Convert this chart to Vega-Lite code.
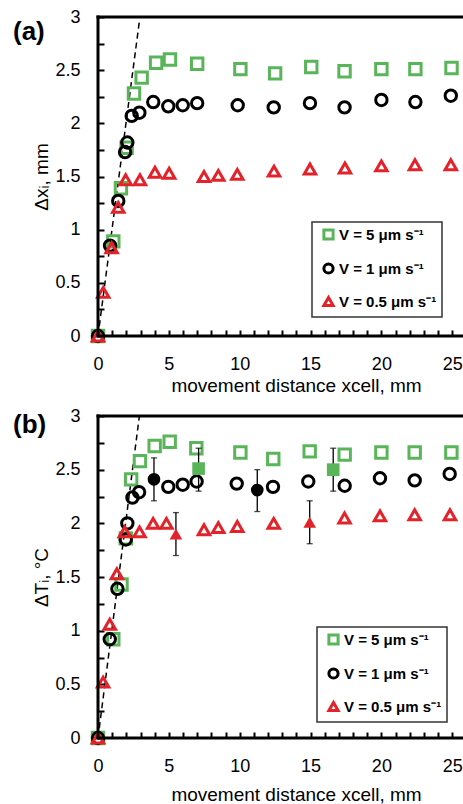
{
  "$schema": "https://vega.github.io/schema/vega-lite/v6.json",
  "padding": {"left": 13, "top": 8, "right": 0, "bottom": 0},
  "bounds": "flush",
  "spacing": 80,
  "config": {
    "font": "Liberation Sans",
    "view": {"stroke": null},
    "axis": {"grid": false, "domain": false, "offset": -6, "tickColor": "black", "tickWidth": 2, "tickSize": 6, "labelFontSize": 18, "labelColor": "black", "labelFont": "Liberation Sans", "titleFont": "Liberation Sans", "titleFontSize": 19, "titleFontWeight": "normal", "titleColor": "black", "labelOverlap": false, "labelFlush": false, "labelBound": false},
    "axisX": {"labelPadding": 19, "titlePadding": 3},
    "axisY": {"labelPadding": 18, "titlePadding": 3},
    "legend": {"strokeColor": "#333333", "strokeWidth": 1.5, "fillColor": "white", "padding": 5, "rowPadding": 11, "symbolSize": 85, "symbolStrokeWidth": 3, "labelFontSize": 15, "labelFontWeight": "bold", "labelFont": "Liberation Sans", "labelColor": "black", "symbolOffset": 4, "labelOffset": 3}
  },
  "datasets": {
    "a": [
      {"x": 0, "y": 0, "s": "V = 5 μm s⁻¹"},
      {"x": 1.08, "y": 0.89, "s": "V = 5 μm s⁻¹"},
      {"x": 1.62, "y": 1.39, "s": "V = 5 μm s⁻¹"},
      {"x": 2.02, "y": 1.77, "s": "V = 5 μm s⁻¹"},
      {"x": 2.54, "y": 2.28, "s": "V = 5 μm s⁻¹"},
      {"x": 3.08, "y": 2.43, "s": "V = 5 μm s⁻¹"},
      {"x": 4.1, "y": 2.57, "s": "V = 5 μm s⁻¹"},
      {"x": 5.08, "y": 2.6, "s": "V = 5 μm s⁻¹"},
      {"x": 7.0, "y": 2.56, "s": "V = 5 μm s⁻¹"},
      {"x": 10.05, "y": 2.51, "s": "V = 5 μm s⁻¹"},
      {"x": 12.5, "y": 2.47, "s": "V = 5 μm s⁻¹"},
      {"x": 15.05, "y": 2.53, "s": "V = 5 μm s⁻¹"},
      {"x": 17.4, "y": 2.49, "s": "V = 5 μm s⁻¹"},
      {"x": 20.0, "y": 2.51, "s": "V = 5 μm s⁻¹"},
      {"x": 22.4, "y": 2.51, "s": "V = 5 μm s⁻¹"},
      {"x": 24.95, "y": 2.52, "s": "V = 5 μm s⁻¹"},
      {"x": 0, "y": 0, "s": "V = 1 μm s⁻¹"},
      {"x": 0.85, "y": 0.85, "s": "V = 1 μm s⁻¹"},
      {"x": 1.43, "y": 1.27, "s": "V = 1 μm s⁻¹"},
      {"x": 1.91, "y": 1.73, "s": "V = 1 μm s⁻¹"},
      {"x": 2.07, "y": 1.82, "s": "V = 1 μm s⁻¹"},
      {"x": 2.38, "y": 2.07, "s": "V = 1 μm s⁻¹"},
      {"x": 2.92, "y": 2.1, "s": "V = 1 μm s⁻¹"},
      {"x": 3.9, "y": 2.2, "s": "V = 1 μm s⁻¹"},
      {"x": 4.96, "y": 2.16, "s": "V = 1 μm s⁻¹"},
      {"x": 5.98, "y": 2.17, "s": "V = 1 μm s⁻¹"},
      {"x": 7.0, "y": 2.19, "s": "V = 1 μm s⁻¹"},
      {"x": 9.86, "y": 2.17, "s": "V = 1 μm s⁻¹"},
      {"x": 12.4, "y": 2.15, "s": "V = 1 μm s⁻¹"},
      {"x": 14.96, "y": 2.19, "s": "V = 1 μm s⁻¹"},
      {"x": 17.4, "y": 2.15, "s": "V = 1 μm s⁻¹"},
      {"x": 20.0, "y": 2.22, "s": "V = 1 μm s⁻¹"},
      {"x": 22.4, "y": 2.2, "s": "V = 1 μm s⁻¹"},
      {"x": 24.9, "y": 2.26, "s": "V = 1 μm s⁻¹"},
      {"x": 0, "y": 0, "s": "V = 0.5 μm s⁻¹"},
      {"x": 0.37, "y": 0.41, "s": "V = 0.5 μm s⁻¹"},
      {"x": 0.96, "y": 0.83, "s": "V = 0.5 μm s⁻¹"},
      {"x": 1.43, "y": 1.21, "s": "V = 0.5 μm s⁻¹"},
      {"x": 1.95, "y": 1.47, "s": "V = 0.5 μm s⁻¹"},
      {"x": 2.96, "y": 1.47, "s": "V = 0.5 μm s⁻¹"},
      {"x": 4.02, "y": 1.54, "s": "V = 0.5 μm s⁻¹"},
      {"x": 5.02, "y": 1.53, "s": "V = 0.5 μm s⁻¹"},
      {"x": 7.48, "y": 1.5, "s": "V = 0.5 μm s⁻¹"},
      {"x": 8.49, "y": 1.51, "s": "V = 0.5 μm s⁻¹"},
      {"x": 9.83, "y": 1.52, "s": "V = 0.5 μm s⁻¹"},
      {"x": 12.42, "y": 1.55, "s": "V = 0.5 μm s⁻¹"},
      {"x": 14.96, "y": 1.57, "s": "V = 0.5 μm s⁻¹"},
      {"x": 17.43, "y": 1.58, "s": "V = 0.5 μm s⁻¹"},
      {"x": 20.0, "y": 1.6, "s": "V = 0.5 μm s⁻¹"},
      {"x": 22.37, "y": 1.61, "s": "V = 0.5 μm s⁻¹"},
      {"x": 24.9, "y": 1.61, "s": "V = 0.5 μm s⁻¹"}
    ],
    "b": [
      {"x": 0, "y": 0, "s": "V = 5 μm s⁻¹"},
      {"x": 1.08, "y": 0.92, "s": "V = 5 μm s⁻¹"},
      {"x": 1.66, "y": 1.43, "s": "V = 5 μm s⁻¹"},
      {"x": 1.96, "y": 1.86, "s": "V = 5 μm s⁻¹"},
      {"x": 2.34, "y": 2.41, "s": "V = 5 μm s⁻¹"},
      {"x": 2.96, "y": 2.58, "s": "V = 5 μm s⁻¹"},
      {"x": 4.0, "y": 2.72, "s": "V = 5 μm s⁻¹"},
      {"x": 5.06, "y": 2.76, "s": "V = 5 μm s⁻¹"},
      {"x": 6.94, "y": 2.7, "s": "V = 5 μm s⁻¹"},
      {"x": 10.05, "y": 2.66, "s": "V = 5 μm s⁻¹"},
      {"x": 12.37, "y": 2.6, "s": "V = 5 μm s⁻¹"},
      {"x": 14.94, "y": 2.67, "s": "V = 5 μm s⁻¹"},
      {"x": 17.41, "y": 2.64, "s": "V = 5 μm s⁻¹"},
      {"x": 20.0, "y": 2.66, "s": "V = 5 μm s⁻¹"},
      {"x": 22.35, "y": 2.66, "s": "V = 5 μm s⁻¹"},
      {"x": 24.94, "y": 2.66, "s": "V = 5 μm s⁻¹"},
      {"x": 0, "y": 0, "s": "V = 1 μm s⁻¹"},
      {"x": 0.83, "y": 0.92, "s": "V = 1 μm s⁻¹"},
      {"x": 1.37, "y": 1.39, "s": "V = 1 μm s⁻¹"},
      {"x": 1.96, "y": 1.85, "s": "V = 1 μm s⁻¹"},
      {"x": 2.07, "y": 2.0, "s": "V = 1 μm s⁻¹"},
      {"x": 2.43, "y": 2.24, "s": "V = 1 μm s⁻¹"},
      {"x": 2.9, "y": 2.29, "s": "V = 1 μm s⁻¹"},
      {"x": 4.96, "y": 2.34, "s": "V = 1 μm s⁻¹"},
      {"x": 5.98, "y": 2.36, "s": "V = 1 μm s⁻¹"},
      {"x": 6.96, "y": 2.39, "s": "V = 1 μm s⁻¹"},
      {"x": 9.79, "y": 2.37, "s": "V = 1 μm s⁻¹"},
      {"x": 12.35, "y": 2.34, "s": "V = 1 μm s⁻¹"},
      {"x": 14.84, "y": 2.39, "s": "V = 1 μm s⁻¹"},
      {"x": 17.41, "y": 2.35, "s": "V = 1 μm s⁻¹"},
      {"x": 19.9, "y": 2.42, "s": "V = 1 μm s⁻¹"},
      {"x": 22.35, "y": 2.4, "s": "V = 1 μm s⁻¹"},
      {"x": 24.82, "y": 2.46, "s": "V = 1 μm s⁻¹"},
      {"x": 0, "y": 0, "s": "V = 0.5 μm s⁻¹"},
      {"x": 0.36, "y": 0.52, "s": "V = 0.5 μm s⁻¹"},
      {"x": 0.83, "y": 1.06, "s": "V = 0.5 μm s⁻¹"},
      {"x": 1.33, "y": 1.53, "s": "V = 0.5 μm s⁻¹"},
      {"x": 1.89, "y": 1.92, "s": "V = 0.5 μm s⁻¹"},
      {"x": 2.93, "y": 1.92, "s": "V = 0.5 μm s⁻¹"},
      {"x": 3.89, "y": 2.0, "s": "V = 0.5 μm s⁻¹"},
      {"x": 4.83, "y": 2.0, "s": "V = 0.5 μm s⁻¹"},
      {"x": 7.48, "y": 1.94, "s": "V = 0.5 μm s⁻¹"},
      {"x": 8.49, "y": 1.96, "s": "V = 0.5 μm s⁻¹"},
      {"x": 9.83, "y": 1.97, "s": "V = 0.5 μm s⁻¹"},
      {"x": 12.4, "y": 2.0, "s": "V = 0.5 μm s⁻¹"},
      {"x": 17.4, "y": 2.05, "s": "V = 0.5 μm s⁻¹"},
      {"x": 19.9, "y": 2.07, "s": "V = 0.5 μm s⁻¹"},
      {"x": 22.35, "y": 2.08, "s": "V = 0.5 μm s⁻¹"},
      {"x": 24.84, "y": 2.08, "s": "V = 0.5 μm s⁻¹"}
    ],
    "bf": [
      {"x": 7.1, "y": 2.51, "lo": 2.3, "hi": 2.7, "s": "V = 5 μm s⁻¹"},
      {"x": 16.6, "y": 2.5, "lo": 2.3, "hi": 2.7, "s": "V = 5 μm s⁻¹"},
      {"x": 3.95, "y": 2.41, "lo": 2.21, "hi": 2.61, "s": "V = 1 μm s⁻¹"},
      {"x": 11.24, "y": 2.31, "lo": 2.11, "hi": 2.5, "s": "V = 1 μm s⁻¹"},
      {"x": 5.5, "y": 1.9, "lo": 1.7, "hi": 2.1, "s": "V = 0.5 μm s⁻¹"},
      {"x": 14.94, "y": 2.01, "lo": 1.81, "hi": 2.21, "s": "V = 0.5 μm s⁻¹"}
    ],
    "fit_a": [{"x": 0, "y": 0}, {"x": 2.91, "y": 2.95}],
    "fit_b": [{"x": 0, "y": 0}, {"x": 2.92, "y": 3.0}]
  },
  "resolve": {"scale": {"color": "independent", "shape": "independent", "x": "independent", "y": "independent"}},
  "vconcat": [
    {
      "width": 365,
      "height": 319,
      "title": {"text": "(a)", "anchor": "start", "frame": "group", "orient": "top", "offset": 0, "baseline": "alphabetic", "dx": -85, "dy": 58, "fontSize": 26, "fontWeight": "bold", "font": "Liberation Sans", "color": "black"},
      "resolve": {"axis": {"x": "independent", "y": "independent"}},
      "layer": [
        {"data": {"name": "fit_a"}, "mark": {"type": "line", "strokeDash": [6, 4], "strokeWidth": 1.5, "color": "black"},
          "encoding": {
            "x": {"field": "x", "type": "quantitative", "scale": {"domain": [0, 25.76], "nice": false, "zero": false}, "axis": null},
            "y": {"field": "y", "type": "quantitative", "scale": {"domain": [0, 3], "nice": false, "zero": false}, "axis": null}
          }},
        {"data": {"name": "a"}, "mark": {"type": "point", "filled": false, "strokeWidth": 3, "size": 130, "opacity": 1},
          "encoding": {
            "x": {"field": "x", "type": "quantitative", "scale": {"domain": [0, 25.76], "nice": false, "zero": false},
              "axis": {"orient": "bottom", "values": [0,1,2,3,4,5,6,7,8,9,10,11,12,13,14,15,16,17,18,19,20,21,22,23,24,25], "labelExpr": "datum.value % 5 === 0 ? datum.label : ''", "format": "~g", "title": "movement distance xcell, mm", "titleX": 198}},
            "y": {"field": "y", "type": "quantitative", "scale": {"domain": [0, 3], "nice": false, "zero": false},
              "axis": {"orient": "left", "values": [0,0.25,0.5,0.75,1,1.25,1.5,1.75,2,2.25,2.5,2.75,3], "labelExpr": "datum.value % 0.5 === 0 ? datum.label : ''", "format": "~g", "title": "Δxᵢ, mm"}},
            "color": {"field": "s", "type": "nominal", "scale": {"domain": ["V = 5 μm s⁻¹", "V = 1 μm s⁻¹", "V = 0.5 μm s⁻¹"], "range": ["#5AB55A", "#000000", "#E3222A"]},
              "legend": {"title": null, "orient": "none", "legendX": 214, "legendY": 205, "direction": "vertical"}},
            "shape": {"field": "s", "type": "nominal", "scale": {"domain": ["V = 5 μm s⁻¹", "V = 1 μm s⁻¹", "V = 0.5 μm s⁻¹"], "range": ["square", "circle", "triangle-up"]},
              "legend": {"title": null, "orient": "none", "legendX": 214, "legendY": 205, "direction": "vertical"}}
          }},
        {"data": {"values": [{}]}, "mark": {"type": "rule", "strokeWidth": 3, "color": "black", "strokeCap": "square"},
          "encoding": {"x": {"datum": 0, "type": "quantitative", "axis": null}, "x2": {"datum": 25.76}, "y": {"datum": 3, "type": "quantitative", "axis": null}}},
        {"data": {"values": [{}]}, "mark": {"type": "rule", "strokeWidth": 3, "color": "black", "strokeCap": "square"},
          "encoding": {"x": {"datum": 0, "type": "quantitative", "axis": null}, "x2": {"datum": 25.76}, "y": {"datum": 0, "type": "quantitative", "axis": null}}},
        {"data": {"values": [{}]}, "mark": {"type": "rule", "strokeWidth": 3, "color": "black", "strokeCap": "square"},
          "encoding": {"x": {"datum": 0, "type": "quantitative", "axis": null}, "y": {"datum": 0, "type": "quantitative", "axis": null}, "y2": {"datum": 3}}}
      ]
    },
    {
      "width": 365,
      "height": 322,
      "title": {"text": "(b)", "anchor": "start", "frame": "group", "orient": "top", "offset": 0, "baseline": "alphabetic", "dx": -85, "dy": 52, "fontSize": 26, "fontWeight": "bold", "font": "Liberation Sans", "color": "black"},
      "resolve": {"scale": {"color": "independent", "shape": "independent"}, "axis": {"x": "independent", "y": "independent"}},
      "layer": [
        {"data": {"name": "fit_b"}, "mark": {"type": "line", "strokeDash": [6, 4], "strokeWidth": 1.5, "color": "black"},
          "encoding": {
            "x": {"field": "x", "type": "quantitative", "scale": {"domain": [0, 25.76], "nice": false, "zero": false}, "axis": null},
            "y": {"field": "y", "type": "quantitative", "scale": {"domain": [0, 3], "nice": false, "zero": false}, "axis": null}
          }},
        {"data": {"name": "b"}, "mark": {"type": "point", "filled": false, "strokeWidth": 3, "size": 130, "opacity": 1},
          "encoding": {
            "x": {"field": "x", "type": "quantitative", "scale": {"domain": [0, 25.76], "nice": false, "zero": false},
              "axis": {"orient": "bottom", "values": [0,1,2,3,4,5,6,7,8,9,10,11,12,13,14,15,16,17,18,19,20,21,22,23,24,25], "labelExpr": "datum.value % 5 === 0 ? datum.label : ''", "format": "~g", "title": "movement distance xcell, mm", "titleX": 198, "titlePadding": 10}},
            "y": {"field": "y", "type": "quantitative", "scale": {"domain": [0, 3], "nice": false, "zero": false},
              "axis": {"orient": "left", "values": [0,0.25,0.5,0.75,1,1.25,1.5,1.75,2,2.25,2.5,2.75,3], "labelExpr": "datum.value % 0.5 === 0 ? datum.label : ''", "format": "~g", "title": "ΔTᵢ, °C"}},
            "color": {"field": "s", "type": "nominal", "scale": {"domain": ["V = 5 μm s⁻¹", "V = 1 μm s⁻¹", "V = 0.5 μm s⁻¹"], "range": ["#5AB55A", "#000000", "#E3222A"]},
              "legend": {"title": null, "orient": "none", "legendX": 219, "legendY": 211, "direction": "vertical"}},
            "shape": {"field": "s", "type": "nominal", "scale": {"domain": ["V = 5 μm s⁻¹", "V = 1 μm s⁻¹", "V = 0.5 μm s⁻¹"], "range": ["square", "circle", "triangle-up"]},
              "legend": {"title": null, "orient": "none", "legendX": 219, "legendY": 211, "direction": "vertical"}}
          }},
        {"data": {"name": "bf"}, "mark": {"type": "errorbar", "ticks": {"size": 6}, "color": "black", "thickness": 1.3},
          "encoding": {
            "x": {"field": "x", "type": "quantitative", "scale": {"domain": [0, 25.76], "nice": false, "zero": false}, "axis": null},
            "y": {"field": "lo", "type": "quantitative", "scale": {"domain": [0, 3], "nice": false, "zero": false}, "axis": null},
            "y2": {"field": "hi"}
          }},
        {"data": {"name": "bf"}, "mark": {"type": "point", "filled": true, "size": 160, "opacity": 1},
          "encoding": {
            "x": {"field": "x", "type": "quantitative", "scale": {"domain": [0, 25.76], "nice": false, "zero": false}, "axis": null},
            "y": {"field": "y", "type": "quantitative", "scale": {"domain": [0, 3], "nice": false, "zero": false}, "axis": null},
            "color": {"field": "s", "type": "nominal", "scale": {"domain": ["V = 5 μm s⁻¹", "V = 1 μm s⁻¹", "V = 0.5 μm s⁻¹"], "range": ["#5AB55A", "#000000", "#E3222A"]}, "legend": null},
            "shape": {"field": "s", "type": "nominal", "scale": {"domain": ["V = 5 μm s⁻¹", "V = 1 μm s⁻¹", "V = 0.5 μm s⁻¹"], "range": ["square", "circle", "triangle-up"]}, "legend": null}
          }},
        {"data": {"values": [{}]}, "mark": {"type": "rule", "strokeWidth": 3, "color": "black", "strokeCap": "square"},
          "encoding": {"x": {"datum": 0, "type": "quantitative", "axis": null}, "x2": {"datum": 25.76}, "y": {"datum": 3, "type": "quantitative", "axis": null}}},
        {"data": {"values": [{}]}, "mark": {"type": "rule", "strokeWidth": 3, "color": "black", "strokeCap": "square"},
          "encoding": {"x": {"datum": 0, "type": "quantitative", "axis": null}, "x2": {"datum": 25.76}, "y": {"datum": 0, "type": "quantitative", "axis": null}}},
        {"data": {"values": [{}]}, "mark": {"type": "rule", "strokeWidth": 3, "color": "black", "strokeCap": "square"},
          "encoding": {"x": {"datum": 0, "type": "quantitative", "axis": null}, "y": {"datum": 0, "type": "quantitative", "axis": null}, "y2": {"datum": 3}}}
      ]
    }
  ]
}
